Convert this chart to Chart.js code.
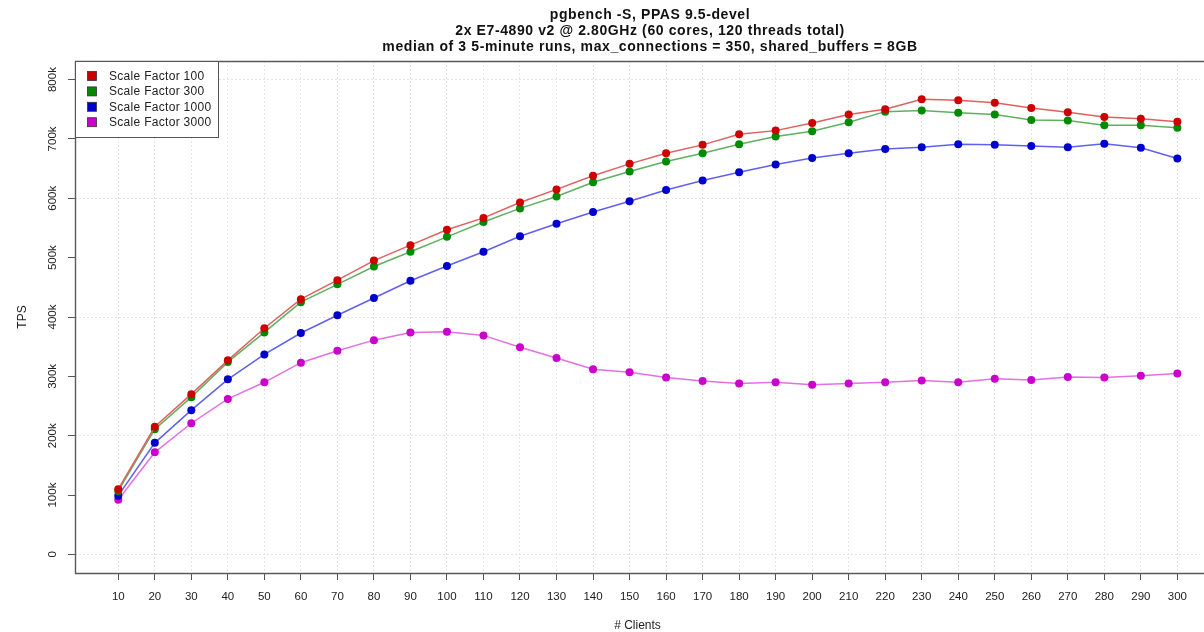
<!DOCTYPE html>
<html><head><meta charset="utf-8">
<script src="https://cdn.jsdelivr.net/npm/chart.js@4/dist/chart.umd.min.js"></script>
<style>html,body{margin:0;padding:0;background:#fff}canvas{display:block}</style>
</head><body>
<canvas id="c" width="1204" height="632"></canvas>
<script>
// ---- data ----
const clients = [10,20,30,40,50,60,70,80,90,100,110,120,130,140,150,160,170,180,190,200,210,220,230,240,250,260,270,280,290,300];
const sf100  = [110000,215000,270000,327000,381000,430000,462000,495000,521000,547000,567000,593000,615000,638000,658000,676000,690000,708000,714000,727000,741000,750000,767000,765000,761000,752000,745000,737000,734000,729000];
const sf300  = [107000,211000,265000,324000,374000,425000,455000,485000,510000,535000,560000,583000,603000,627000,645000,662000,676000,691000,704000,713000,728000,746000,748000,744000,741000,732000,731000,723000,723000,719000];
const sf1000 = [99000,188000,243000,295000,337000,373000,403000,432000,461000,486000,510000,536000,557000,577000,595000,614000,630000,644000,657000,668000,676000,683000,686000,691000,690000,688000,686000,692000,685000,667000];
const sf3000 = [92000,172000,221000,262000,290000,323000,343000,361000,374000,375000,369000,349000,331000,312000,307000,298000,292000,288000,290000,286000,288000,290000,293000,290000,296000,294000,299000,298000,301000,305000];
const seriesNames = ['Scale Factor 100','Scale Factor 300','Scale Factor 1000','Scale Factor 3000'];
const seriesValues = [sf100, sf300, sf1000, sf3000];
const yTickValues = [0,100000,200000,300000,400000,500000,600000,700000,800000];
const yTickLabels = ['0','100k','200k','300k','400k','500k','600k','700k','800k'];
const titleLines = ['pgbench -S, PPAS 9.5-devel','2x E7-4890 v2 @ 2.80GHz (60 cores, 120 threads total)','median of 3 5-minute runs, max_connections = 350, shared_buffers = 8GB'];
const xTitle = '# Clients';
const yTitle = 'TPS';

// ---- styles ----
const pointColors = ['#cc0000','#008a00','#0000cc','#cc00cc'];
const lineColors  = ['#e06060','#60b060','#6060ee','#e470e4'];
const FONT = '"Liberation Sans", Arial, Helvetica, sans-serif';

const datasets = seriesValues.map((vals, i) => ({
  label: seriesNames[i],
  data: clients.map((c, j) => ({x: c, y: vals[j]})),
  borderColor: lineColors[i],
  backgroundColor: pointColors[i],
  pointBackgroundColor: pointColors[i],
  pointBorderColor: pointColors[i],
  pointBorderWidth: 0,
  pointRadius: 4,
  borderWidth: 1.5,
  tension: 0,
  fill: false
}));

const decorPlugin = {
  id: 'decor',
  afterDraw(chart) {
    const ctx = chart.ctx;
    const a = chart.chartArea;
    const ys = chart.scales.y;
    ctx.save();
    // frame
    ctx.strokeStyle = '#5a5a5a';
    ctx.lineWidth = 1.4;
    ctx.beginPath();
    ctx.moveTo(chart.width, a.top + 0.5);
    ctx.lineTo(a.left + 0.5, a.top + 0.5);
    ctx.lineTo(a.left + 0.5, a.bottom + 0.5);
    ctx.lineTo(chart.width, a.bottom + 0.5);
    ctx.stroke();
    // title
    ctx.fillStyle = '#111';
    ctx.font = 'bold 14px ' + FONT;
    ctx.textAlign = 'center';
    ctx.textBaseline = 'middle';
    ctx.letterSpacing = '0.6px';
    titleLines.forEach((t, i) => ctx.fillText(t, 650, 15 + i * 16));
    ctx.letterSpacing = '0px';
    // y tick labels (rotated)
    ctx.font = '11.5px ' + FONT;
    ctx.fillStyle = '#222';
    yTickValues.forEach((v, i) => {
      const py = ys.getPixelForValue(v);
      ctx.save();
      ctx.translate(53, py);
      ctx.rotate(-Math.PI / 2);
      ctx.fillText(yTickLabels[i], 0, 0);
      ctx.restore();
    });
    // y title
    ctx.font = '12px ' + FONT;
    ctx.save();
    ctx.translate(23, (a.top + a.bottom) / 2);
    ctx.rotate(-Math.PI / 2);
    ctx.fillText(yTitle, 0, 0);
    ctx.restore();
    // legend
    const lx = a.left + 0.5, ly = a.top + 0.5, lw = 143, lh = 76;
    ctx.fillStyle = '#fff';
    ctx.fillRect(lx, ly, lw, lh);
    ctx.strokeStyle = '#555';
    ctx.lineWidth = 1;
    ctx.strokeRect(lx, ly, lw, lh);
    ctx.font = '12px ' + FONT;
    ctx.textAlign = 'left';
    ctx.letterSpacing = '0.3px';
    chart.data.datasets.forEach((ds, i) => {
      const cy = 76 + i * 15.4;
      ctx.fillStyle = ds.pointBackgroundColor;
      ctx.fillRect(87.5, cy - 4.5, 9, 9);
      ctx.strokeStyle = '#333';
      ctx.lineWidth = 0.8;
      ctx.strokeRect(87.5, cy - 4.5, 9, 9);
      ctx.fillStyle = '#222';
      ctx.fillText(ds.label, 109, cy + 0.5);
    });
    ctx.restore();
  }
};

new Chart(document.getElementById('c'), {
  type: 'line',
  data: { datasets },
  plugins: [decorPlugin],
  options: {
    responsive: false,
    animation: false,
    devicePixelRatio: 1,
    layout: { padding: { top: 61, right: 0, bottom: 0, left: 0 } },
    plugins: { legend: { display: false }, title: { display: false }, tooltip: { enabled: false } },
    scales: {
      x: {
        type: 'linear',
        min: -1.85,
        max: 306.2,
        afterBuildTicks: s => { s.ticks = clients.map(v => ({ value: v })); },
        afterFit: s => { s.height = 59; },
        ticks: {
          autoSkip: false, maxRotation: 0, minRotation: 0,
          font: { family: FONT, size: 11.5 }, color: '#222', padding: 10,
          callback: v => String(v)
        },
        grid: { color: '#e4e4e4', lineWidth: 1, tickColor: '#555', tickLength: 7, drawTicks: true },
        border: { display: false, dash: [2, 2] },
        title: { display: true, text: xTitle, font: { family: FONT, size: 12, lineHeight: 1 }, color: '#222', padding: { top: 0, bottom: 0 } }
      },
      y: {
        type: 'linear',
        min: -31300,
        max: 831300,
        afterBuildTicks: s => { s.ticks = yTickValues.map(v => ({ value: v })); },
        afterFit: s => { s.width = 75; },
        ticks: { display: false },
        grid: {
          color: c => (c.tick && c.tick.value % 200000 === 0) ? '#e4e4e4' : 'rgba(0,0,0,0)',
          lineWidth: 1, tickColor: '#555', tickLength: 7, drawTicks: true
        },
        border: { display: false, dash: [2, 2] }
      }
    }
  }
});
</script>
</body></html>
